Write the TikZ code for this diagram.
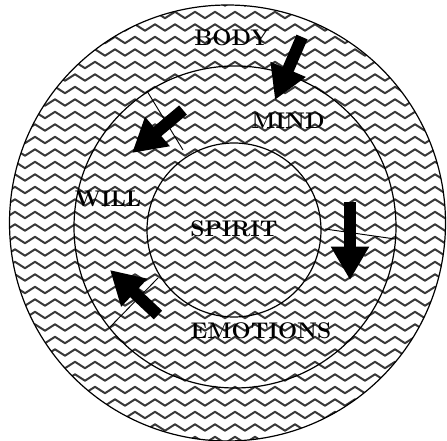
\documentclass[tikz,border=0pt]{standalone}
\usetikzlibrary{arrows.meta,decorations.pathmorphing}
\definecolor{waveInk}{HTML}{3A3A3A}

\tikzset{
  wave/.style={draw=waveInk, line width=1.5pt, line join=round,
    decorate, decoration={zigzag, segment length=15pt, amplitude=2.4pt}},
  ring/.style={draw=black, line width=0.9pt},
  divider/.style={draw=black, line width=0.7pt},
  blockarrow/.style={line width=9pt, -{Triangle[length=25pt,width=27pt]}},
  ringlabel/.style={font=\fontsize{17}{20}\selectfont\bfseries, inner sep=1pt}
}

\begin{document}
\begin{tikzpicture}[x=0.75pt, y=0.75pt]
\useasboundingbox (0,0) rectangle (447,440);

% zigzag fill inside the outer ring
\begin{scope}
  \clip (227.5,217) circle (218);
  \foreach \r in {0,...,36} {
    \draw[wave] (-10,\r*12.5) -- (460,\r*12.5);
  }
\end{scope}

% rings
\draw[ring] (227.5,217) circle (218);
\draw[ring] (235,213) circle (161);
\draw[ring] (234,210) circle (87);

% dividers between spirit and the middle ring
\draw[divider] (147,349) -- (183,290);
\draw[divider] (325,211) -- (395,201);
\draw[divider] (158,162) -- (110,113);

% labels
\node[ringlabel] (body) at (232,402) {BODY};
\node[ringlabel] (mind) at (288,319) {MIND};
\node[ringlabel] (will) at (108,241) {WILL};
\node[ringlabel] (spirit) at (234,211) {SPIRIT};
\node[ringlabel] (emotions) at (261,109) {EMOTIONS};

% flow arrows
\coordinate (bodyTail) at (302,403);
\coordinate (bodyTip) at (275,340);
\coordinate (mindTail) at (183,330);
\coordinate (mindTip) at (132,287);
\coordinate (rightTail) at (350,238);
\coordinate (rightTip) at (350,160);
\coordinate (emoTail) at (158,125);
\coordinate (emoTip) at (110,170);
\draw[blockarrow] (bodyTail) -- (bodyTip);
\draw[blockarrow] (mindTail) -- (mindTip);
\draw[blockarrow] (rightTail) -- (rightTip);
\draw[blockarrow] (emoTail) -- (emoTip);
\end{tikzpicture}
\end{document}
